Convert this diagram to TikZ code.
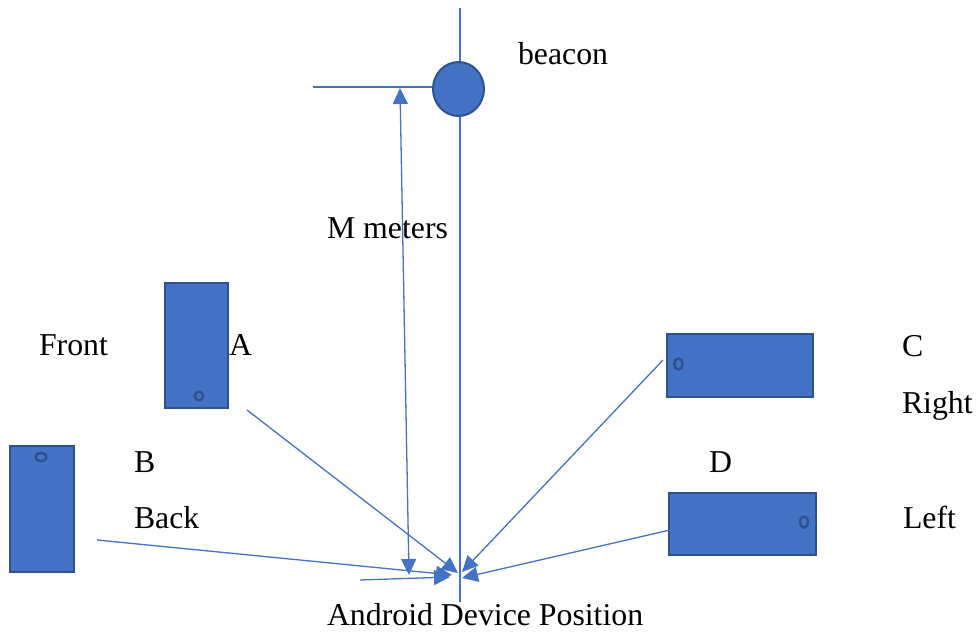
\documentclass[tikz,border=0pt]{standalone}
\usepackage{fontspec}
\setmainfont{Liberation Serif}
\usetikzlibrary{arrows.meta,shapes.geometric,backgrounds}
\definecolor{phonefill}{HTML}{4472C4}
\definecolor{phoneedge}{HTML}{2F528F}
\definecolor{wire}{HTML}{4472C4}
\begin{document}
\begin{tikzpicture}[x=1pt,y=-1pt,
  every node/.style={font=\rmfamily\fontsize{31.8}{38}\selectfont},
  label/.style={anchor=base west,inner sep=0pt,outer sep=0pt},
  phone/.style={draw=phoneedge,fill=phonefill,line width=2pt,inner sep=0pt},
  btn/.style={draw=phoneedge,line width=2.4pt},
  wireline/.style={draw=wire,line width=1.3pt},
  tip/.style={-{Triangle[length=16pt,width=15pt]}},
  bothtips/.style={{Triangle[length=16pt,width=15pt]}-{Triangle[length=16pt,width=15pt]}}]
\useasboundingbox (0,0) rectangle (978,634);

% beacon
\node[ellipse,draw=phoneedge,fill=phonefill,line width=2pt,minimum width=51pt,minimum height=54pt,inner sep=0pt] (beacon) at (458.5,89) {};

% phones
\node[phone,minimum width=63pt,minimum height=125pt] (phA) at (196.5,345.5) {};
\node[phone,minimum width=64pt,minimum height=126pt] (phB) at (42,509) {};
\node[phone,minimum width=146pt,minimum height=63pt] (phC) at (740,365.5) {};
\node[phone,minimum width=147pt,minimum height=62pt] (phD) at (742.5,524) {};
\draw[btn] (199,396) circle[radius=4.3];
\draw[btn] (41,457) ellipse[x radius=5.5,y radius=4.3];
\draw[btn] (678.5,364) ellipse[x radius=4.2,y radius=5.6];
\draw[btn] (804,522) ellipse[x radius=4.2,y radius=5.6];

% labels
\node[label] (tBeacon) at (518,65) {beacon};
\node[label] (tM) at (327,238) {M meters};
\node[label] (tFront) at (39,355) {Front};
\node[label] (tA) at (229,355) {A};
\node[label] (tC) at (902,356) {C};
\node[label] (tRight) at (902,413) {Right};
\node[label] (tB) at (134,472) {B};
\node[label] (tBack) at (134,528) {Back};
\node[label] (tD) at (709,472) {D};
\node[label] (tLeft) at (903,528) {Left};
\node[label] (tDev) at (327,625) {Android Device Position};

% line end points
\coordinate (vTop) at (460,8);
\coordinate (vBot) at (460,602);
\coordinate (hLeft) at (313,87);
\coordinate (mTop) at (400,88);
\coordinate (mBot) at (409,575);
\coordinate (aFrom) at (247,410);
\coordinate (aTo) at (458,573);
\coordinate (cFrom) at (663,360);
\coordinate (cTo) at (462,572);
\coordinate (bFrom) at (97,540);
\coordinate (bTo) at (452,575);
\coordinate (dFrom) at (670,530);
\coordinate (dTo) at (462,578);
\coordinate (eFrom) at (360,580);
\coordinate (eTo) at (450,577);

\begin{scope}[on background layer]
\draw[wireline] (vTop) -- (vBot);
\draw[wireline] (hLeft) -- (hLeft -| beacon.west);
\end{scope}
\draw[wireline,bothtips] (mTop) -- (mBot);
\draw[wireline,tip] (aFrom) -- (aTo);
\draw[wireline,tip] (cFrom) -- (cTo);
\draw[wireline,tip] (bFrom) -- (bTo);
\draw[wireline,tip] (dFrom) -- (dTo);
\draw[wireline,tip] (eFrom) -- (eTo);
\end{tikzpicture}
\end{document}
